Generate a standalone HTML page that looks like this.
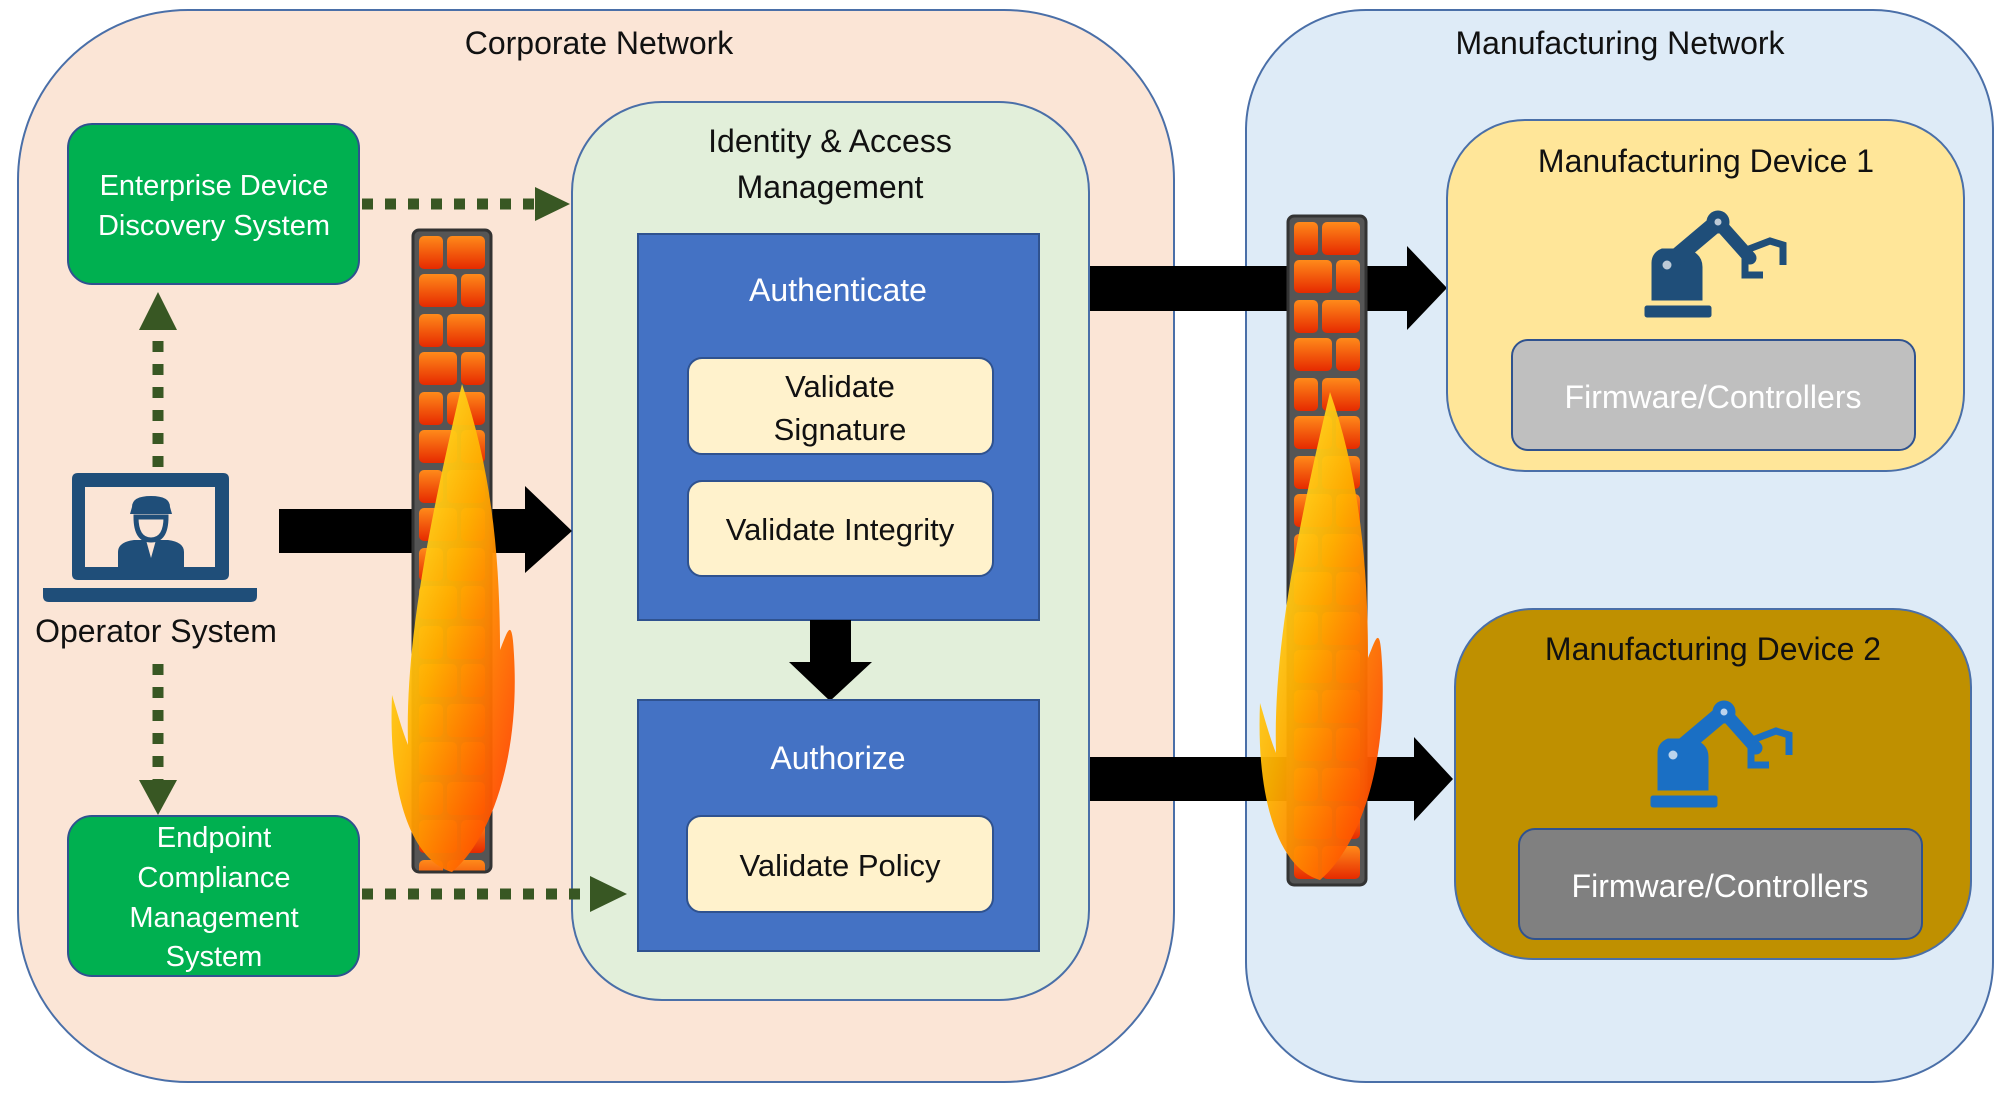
<!DOCTYPE html>
<html><head><meta charset="utf-8"><style>
html,body{margin:0;padding:0;background:#fff;}
svg{display:block;}
text{font-family:"Liberation Sans","DejaVu Sans",sans-serif;}
</style></head><body>
<svg width="2006" height="1094" viewBox="0 0 2006 1094" xmlns="http://www.w3.org/2000/svg">
<defs>
<linearGradient id="brick" x1="0" y1="0" x2="0" y2="1">
<stop offset="0" stop-color="#ff8a1a"/><stop offset="1" stop-color="#e62a00"/>
</linearGradient>
<pattern id="bp1" patternUnits="userSpaceOnUse" x="413" y="232" width="78" height="78">
<rect width="78" height="78" fill="#555"/>
<rect x="6" y="4" width="24" height="33" rx="5" fill="url(#brick)"/>
<rect x="34" y="4" width="38" height="33" rx="5" fill="url(#brick)"/>
<rect x="6" y="42" width="38" height="33" rx="5" fill="url(#brick)"/>
<rect x="48" y="42" width="24" height="33" rx="5" fill="url(#brick)"/>
</pattern>
<pattern id="bp2" patternUnits="userSpaceOnUse" x="1288" y="218" width="78" height="78">
<rect width="78" height="78" fill="#555"/>
<rect x="6" y="4" width="24" height="33" rx="5" fill="url(#brick)"/>
<rect x="34" y="4" width="38" height="33" rx="5" fill="url(#brick)"/>
<rect x="6" y="42" width="38" height="33" rx="5" fill="url(#brick)"/>
<rect x="48" y="42" width="24" height="33" rx="5" fill="url(#brick)"/>
</pattern>
<linearGradient id="flame" x1="0" y1="0" x2="1" y2="1">
<stop offset="0" stop-color="#ffff40"/><stop offset="0.45" stop-color="#ffb000"/><stop offset="1" stop-color="#ff3000"/>
</linearGradient>
<g id="fl">
<path d="M462 384 C492 470 500 560 500 650 C508 630 512 615 514 655 C520 760 490 840 452 872 C410 860 388 790 392 695 C398 715 402 730 408 745 C405 640 430 520 462 384 Z" fill="url(#flame)" opacity="0.95"/>
</g>
<g id="robot">
<rect x="0" y="53" width="66" height="11" rx="2"/>
<path d="M7 47 L7 10 Q7 0 17 -4 L40 -4 Q57 0 57 14 L57 47 Z"/>
<line x1="22" y1="12" x2="73" y2="-31" stroke-width="17" stroke-linecap="round"/>
<circle cx="73" cy="-31" r="11"/>
<line x1="73" y1="-31" x2="105" y2="5" stroke-width="13" stroke-linecap="round"/>
<path d="M100 0 L100 22 L118 22 M104 -4 L125 -12 L138 -8 L138 12" fill="none" stroke-width="7"/>
<circle cx="22" cy="12" r="5" fill="#fff" opacity="0.7"/>
<circle cx="73" cy="-31" r="4" fill="#fff" opacity="0.7"/>
</g>
</defs>

<!-- networks -->
<rect x="18" y="10" width="1156" height="1072" rx="170" fill="#fbe5d6" stroke="#4a6fa8" stroke-width="2"/>
<rect x="1246" y="10" width="747" height="1072" rx="120" fill="#deebf7" stroke="#4a6fa8" stroke-width="2"/>
<text x="599" y="54" font-size="32" text-anchor="middle" fill="#111">Corporate Network</text>
<text x="1620" y="54" font-size="32" text-anchor="middle" fill="#111">Manufacturing Network</text>

<!-- IAM -->
<rect x="572" y="102" width="517" height="898" rx="90" fill="#e2efda" stroke="#4a6fa8" stroke-width="2"/>
<text x="830" y="152" font-size="32" text-anchor="middle" fill="#111">Identity &amp; Access</text>
<text x="830" y="198" font-size="32" text-anchor="middle" fill="#111">Management</text>

<rect x="638" y="234" width="401" height="386" fill="#4472c4" stroke="#2f528f" stroke-width="2"/>
<text x="838" y="301" font-size="32" text-anchor="middle" fill="#fff">Authenticate</text>
<rect x="688" y="358" width="305" height="96" rx="14" fill="#fff2cc" stroke="#2f528f" stroke-width="2"/>
<text x="840" y="397" font-size="31" text-anchor="middle" fill="#111">Validate</text>
<text x="840" y="440" font-size="31" text-anchor="middle" fill="#111">Signature</text>
<rect x="688" y="481" width="305" height="95" rx="14" fill="#fff2cc" stroke="#2f528f" stroke-width="2"/>
<text x="840" y="540" font-size="31" text-anchor="middle" fill="#111">Validate Integrity</text>

<path d="M810 620 L851 620 L851 662 L872 662 L830 701 L789 662 L810 662 Z" fill="#000"/>

<rect x="638" y="700" width="401" height="251" fill="#4472c4" stroke="#2f528f" stroke-width="2"/>
<text x="838" y="769" font-size="32" text-anchor="middle" fill="#fff">Authorize</text>
<rect x="687" y="816" width="306" height="96" rx="14" fill="#fff2cc" stroke="#2f528f" stroke-width="2"/>
<text x="840" y="876" font-size="31" text-anchor="middle" fill="#111">Validate Policy</text>

<!-- green boxes -->
<rect x="68" y="124" width="291" height="160" rx="24" fill="#00b050" stroke="#2f528f" stroke-width="2"/>
<text x="214" y="195" font-size="29" text-anchor="middle" fill="#fff">Enterprise Device</text>
<text x="214" y="235" font-size="29" text-anchor="middle" fill="#fff">Discovery System</text>
<rect x="68" y="816" width="291" height="160" rx="24" fill="#00b050" stroke="#2f528f" stroke-width="2"/>
<text x="214" y="847" font-size="29" text-anchor="middle" fill="#fff">Endpoint</text>
<text x="214" y="887" font-size="29" text-anchor="middle" fill="#fff">Compliance</text>
<text x="214" y="927" font-size="29" text-anchor="middle" fill="#fff">Management</text>
<text x="214" y="966" font-size="29" text-anchor="middle" fill="#fff">System</text>

<!-- dotted arrows -->
<g stroke="#385723" stroke-width="11" stroke-dasharray="11 12" fill="none">
<line x1="158" y1="467" x2="158" y2="333"/>
<line x1="158" y1="664" x2="158" y2="780"/>
<line x1="362" y1="204" x2="535" y2="204"/>
<line x1="362" y1="894" x2="590" y2="894"/>
</g>
<g fill="#385723">
<path d="M139 330 L177 330 L158 292 Z"/>
<path d="M139 780 L177 780 L158 815 Z"/>
<path d="M535 187 L535 221 L570 204 Z"/>
<path d="M590 876 L590 912 L627 894 Z"/>
</g>

<!-- laptop -->
<g fill="#1f4e79">
<path fill-rule="evenodd" d="M78 473 L223 473 Q229 473 229 479 L229 574 Q229 580 223 580 L78 580 Q72 580 72 574 L72 479 Q72 473 78 473 Z M85 487 L85 567 L215 567 L215 487 Z"/>
<path d="M43 588 L257 588 L257 596 Q257 602 251 602 L49 602 Q43 602 43 596 Z"/>
<path d="M132 507 Q132 496 151 496 Q170 496 170 507 L172 514 L130 514 Z"/>
<path d="M136 517 L166 517 Q166 540 151 540 Q136 540 136 517 Z" fill="none" stroke="#1f4e79" stroke-width="5"/>
<path d="M118 567 L118 552 Q118 542 134 540 L146 540 L151 558 L156 540 L168 540 Q184 542 184 552 L184 567 Z"/>
</g>
<text x="156" y="642" font-size="32" text-anchor="middle" fill="#111">Operator System</text>

<!-- big arrows -->
<path d="M279 509 L525 509 L525 486 L572 531 L525 573 L525 553 L279 553 Z" fill="#000"/>
<path d="M1090 266 L1407 266 L1407 246 L1447 288 L1407 330 L1407 311 L1090 311 Z" fill="#000"/>
<path d="M1090 757 L1414 757 L1414 737 L1453 779 L1414 821 L1414 801 L1090 801 Z" fill="#000"/>

<!-- firewalls -->
<rect x="413" y="230" width="78" height="642" rx="6" fill="url(#bp1)" stroke="#333" stroke-width="3"/>
<use href="#fl"/>
<rect x="1288" y="216" width="78" height="669" rx="6" fill="url(#bp2)" stroke="#333" stroke-width="3"/>
<use href="#fl" transform="translate(868,0) scale(1,1) translate(0,8)"/>

<!-- devices -->
<rect x="1447" y="120" width="517" height="351" rx="78" fill="#ffe699" stroke="#4a6fa8" stroke-width="2"/>
<text x="1706" y="172" font-size="32" text-anchor="middle" fill="#111">Manufacturing Device 1</text>
<g fill="#1f4e79" stroke="#1f4e79" transform="translate(1645,253)"><use href="#robot"/></g>
<rect x="1512" y="340" width="403" height="110" rx="16" fill="#bfbfbf" stroke="#2f528f" stroke-width="2"/>
<text x="1713" y="408" font-size="32" text-anchor="middle" fill="#fff">Firmware/Controllers</text>

<rect x="1455" y="609" width="516" height="350" rx="78" fill="#bf9000" stroke="#4a6fa8" stroke-width="2"/>
<text x="1713" y="660" font-size="32" text-anchor="middle" fill="#111">Manufacturing Device 2</text>
<g fill="#1a6fc4" stroke="#1a6fc4" transform="translate(1651,743)"><use href="#robot"/></g>
<rect x="1519" y="829" width="403" height="110" rx="16" fill="#808080" stroke="#2f528f" stroke-width="2"/>
<text x="1720" y="897" font-size="32" text-anchor="middle" fill="#fff">Firmware/Controllers</text>
</svg>
</body></html>
